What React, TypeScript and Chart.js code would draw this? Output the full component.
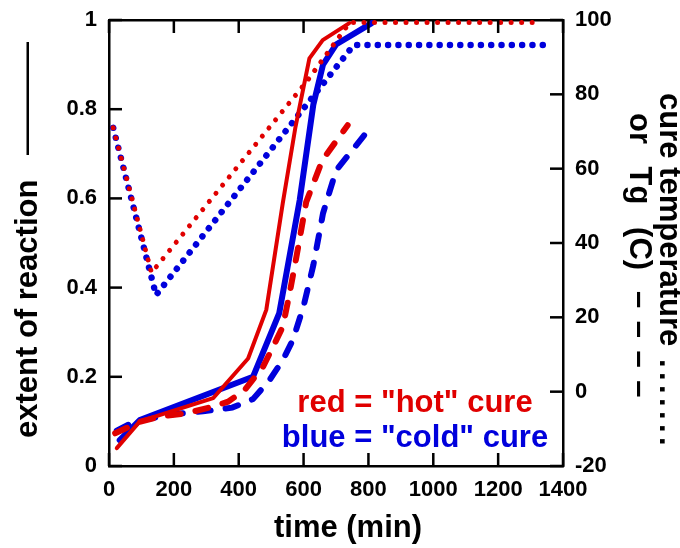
import React, { useEffect, useRef } from "react";
import { Chart, registerables } from "chart.js";

Chart.register(...registerables);

const FONT = '"Liberation Sans", Arial, Helvetica, sans-serif';
const RED = "#e00000";
const BLUE = "#0000dc";

// tick values
const timeTicks = [0, 200, 400, 600, 800, 1000, 1200, 1400];
const extentTicks = [0, 0.2, 0.4, 0.6, 0.8, 1];
const tempTicks = [-20, 0, 20, 40, 60, 80, 100];

// extent of reaction (left axis), solid
const hotExtentTime = [24, 95, 321, 429, 485, 536, 575, 618, 659, 741];
const hotExtent = [0.04, 0.1, 0.152, 0.241, 0.35, 0.59, 0.76, 0.914, 0.955, 0.993];
const coldExtentTime = [33, 95, 444, 525, 588, 630, 660, 700, 810];
const coldExtent = [0.058, 0.103, 0.2, 0.343, 0.596, 0.81, 0.9, 0.945, 0.993];

// Tg (right axis), dashed
const hotTgTime = [19, 95, 157, 239, 321, 367, 418, 475, 506, 536, 557, 578, 608, 658, 736];
const hotTg = [-11.2, -8.1, -6.7, -5.8, -4.0, -2.7, 0.4, 6.7, 12.1, 17.5, 26.5, 36.3, 51, 62.3, 71.7];
const coldTgTime = [24, 80, 200, 290, 380, 444, 495, 536, 567, 600, 630, 660, 700, 810];
const coldTg = [-10.5, -8, -6, -5.3, -4.3, -2, 3.1, 8.5, 13.9, 23, 34, 48, 59.5, 71.5];

// cure temperature (right axis), dotted
const hotCureTime = [13, 131, 610, 742, 1332];
const hotCureTemp = [71, 32, 83.5, 99.3, 99.3];
const coldCureTime = [13, 145, 755, 1340];
const coldCureTemp = [71, 26, 93.3, 93.3];

const pts = (xs: number[], ys: number[]) => xs.map((x, i) => ({ x, y: ys[i] }));

const tickFont = { family: FONT, size: 22, weight: "bold" as const };
const TICK_LEN = 13;
const TICK_W = 2.5;

const annotPlugin = {
  id: "annot",
  afterDraw(chart: any) {
    const ctx = chart.ctx as CanvasRenderingContext2D;
    const area = chart.chartArea;
    const sx = chart.scales.x;
    const sy = chart.scales.y;
    const sy2 = chart.scales.y2;

    // inward tick marks, placed through the chart's own scales
    ctx.save();
    ctx.setLineDash([]);
    ctx.globalAlpha = 1;
    ctx.fillStyle = "#000";
    for (const v of timeTicks) {
      const px = sx.getPixelForValue(v);
      ctx.fillRect(px - TICK_W / 2, area.bottom - TICK_LEN, TICK_W, TICK_LEN);
      ctx.fillRect(px - TICK_W / 2, area.top, TICK_W, TICK_LEN);
    }
    for (const v of extentTicks) {
      const py = sy.getPixelForValue(v);
      ctx.fillRect(area.left, py - TICK_W / 2, TICK_LEN, TICK_W);
    }
    for (const v of tempTicks) {
      const py = sy2.getPixelForValue(v);
      ctx.fillRect(area.right - TICK_LEN, py - TICK_W / 2, TICK_LEN, TICK_W);
    }
    ctx.restore();

    ctx.save();
    ctx.font = `bold 31px ${FONT}`;
    ctx.textBaseline = "alphabetic";

    // notes
    ctx.textAlign = "center";
    ctx.fillStyle = RED;
    ctx.fillText('red = "hot" cure', 415, 412);
    ctx.fillStyle = BLUE;
    ctx.fillText('blue = "cold" cure', 415, 447);

    // x title
    ctx.fillStyle = "#000";
    ctx.fillText("time (min)", 348, 537);

    // left title
    ctx.save();
    ctx.translate(37, 438);
    ctx.rotate(-Math.PI / 2);
    ctx.textAlign = "left";
    ctx.fillText("extent of reaction", 0, 0);
    ctx.fillRect(283, -10.5, 113, 2.5);
    ctx.restore();

    // right title
    ctx.save();
    ctx.translate(660, 93);
    ctx.rotate(Math.PI / 2);
    ctx.textAlign = "left";
    ctx.fillText("cure temperature", 0, 0);
    (ctx as any).letterSpacing = "4.4px";
    ctx.fillText(".......", 266, 0);
    ctx.restore();

    ctx.save();
    ctx.translate(630, 113);
    ctx.rotate(Math.PI / 2);
    ctx.textAlign = "left";
    (ctx as any).wordSpacing = "14px";
    ctx.fillText("or Tg (C)", 0, 0);
    (ctx as any).wordSpacing = "0px";
    (ctx as any).letterSpacing = "12.5px";
    ctx.fillText("––––", 178, 0);
    ctx.restore();

    ctx.restore();
  },
};

const axisCommon = {
  grid: { display: false, drawOnChartArea: false, drawTicks: false },
  border: { display: true, width: 2.5, color: "#000" },
};

const fixBox = (w: number | null, h: number | null) => (s: any) => {
  if (w !== null) s.width = w;
  if (h !== null) s.height = h;
  s.paddingTop = 0;
  s.paddingBottom = 0;
  s.paddingLeft = 0;
  s.paddingRight = 0;
};

export default function App() {
  const ref = useRef<HTMLCanvasElement | null>(null);
  useEffect(() => {
    document.body.style.margin = "0";
    const canvas = ref.current!;
    const chart = new Chart(canvas, {
      type: "line",
      data: {
        datasets: [
          {
            label: "hot extent",
            data: pts(hotExtentTime, hotExtent),
            yAxisID: "y",
            borderColor: RED,
            borderWidth: 4,
            pointRadius: 0,
            tension: 0,
            borderJoinStyle: "round",
            borderCapStyle: "round",
          },
          {
            label: "hot Tg",
            data: pts(hotTgTime, hotTg),
            yAxisID: "y2",
            borderColor: RED,
            borderWidth: 6,
            borderDash: [13, 15],
            borderCapStyle: "round",
            pointRadius: 0,
            tension: 0,
          },
          {
            label: "hot cure temp",
            data: pts(hotCureTime, hotCureTemp),
            yAxisID: "y2",
            borderColor: RED,
            borderWidth: 5,
            borderDash: [0.01, 10.5],
            borderCapStyle: "round",
            pointRadius: 0,
            tension: 0,
          },
          {
            label: "cold extent",
            data: pts(coldExtentTime, coldExtent),
            yAxisID: "y",
            borderColor: BLUE,
            borderWidth: 6,
            pointRadius: 0,
            tension: 0,
            borderJoinStyle: "round",
            borderCapStyle: "round",
          },
          {
            label: "cold Tg",
            data: pts(coldTgTime, coldTg),
            yAxisID: "y2",
            borderColor: BLUE,
            borderWidth: 6,
            borderDash: [13, 15],
            borderCapStyle: "round",
            pointRadius: 0,
            tension: 0,
          },
          {
            label: "cold cure temp",
            data: pts(coldCureTime, coldCureTemp),
            yAxisID: "y2",
            borderColor: BLUE,
            borderWidth: 6.5,
            borderDash: [0.01, 10.3],
            borderCapStyle: "round",
            pointRadius: 0,
            tension: 0,
          },
        ],
      },
      options: {
        animation: false,
        responsive: false,
        layout: { padding: 0 },
        plugins: { legend: { display: false }, tooltip: { enabled: false }, title: { display: false } },
        scales: {
          x: {
            type: "linear",
            position: "bottom",
            min: 0,
            max: 1400,
            afterBuildTicks: (s: any) => {
              s.ticks = timeTicks.map((v) => ({ value: v }));
            },
            afterFit: fixBox(null, 82),
            ticks: {
              callback: (v: any) => String(v),
              font: tickFont,
              color: "#000",
              padding: 11,
              maxRotation: 0,
              autoSkip: false,
            },
            ...axisCommon,
          },
          x2: {
            type: "linear",
            position: "top",
            min: 0,
            max: 1400,
            afterBuildTicks: (s: any) => {
              s.ticks = timeTicks.map((v) => ({ value: v }));
            },
            afterFit: fixBox(null, 20),
            ticks: { display: false },
            ...axisCommon,
          },
          y: {
            type: "linear",
            position: "left",
            min: 0,
            max: 1,
            afterBuildTicks: (s: any) => {
              s.ticks = extentTicks.map((v) => ({ value: v }));
            },
            afterFit: fixBox(109, null),
            ticks: {
              callback: (v: any) => String(v),
              font: tickFont,
              color: "#000",
              padding: 12,
              autoSkip: false,
            },
            ...axisCommon,
          },
          y2: {
            type: "linear",
            position: "right",
            min: -20,
            max: 100,
            afterBuildTicks: (s: any) => {
              s.ticks = tempTicks.map((v) => ({ value: v }));
            },
            afterFit: fixBox(117, null),
            ticks: {
              callback: (v: any) => String(v),
              font: tickFont,
              color: "#000",
              padding: 12,
              autoSkip: false,
            },
            ...axisCommon,
          },
        },
      },
      plugins: [annotPlugin],
    });
    return () => chart.destroy();
  }, []);
  return (
    <div style={{ width: 680, height: 548 }}>
      <canvas ref={ref} width={680} height={548} style={{ display: "block" }} />
    </div>
  );
}
